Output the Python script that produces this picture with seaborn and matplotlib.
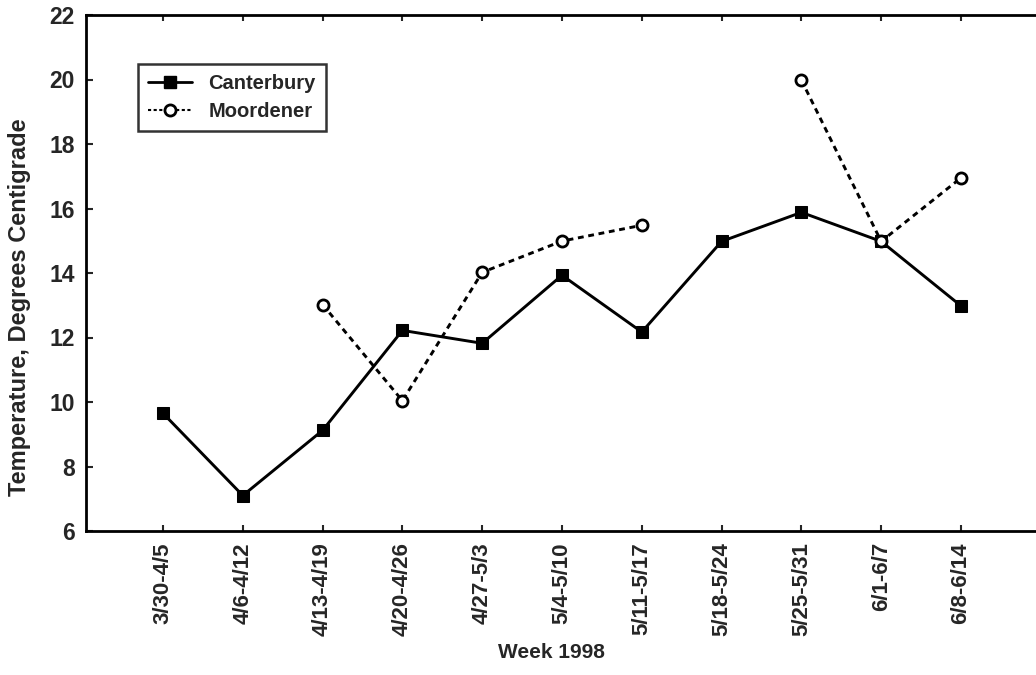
import numpy as np
import pandas as pd
import matplotlib
matplotlib.use("Agg")
import matplotlib.pyplot as plt
from matplotlib.lines import Line2D
import seaborn as sns

weeks = ["3/30-4/5", "4/6-4/12", "4/13-4/19", "4/20-4/26", "4/27-5/3", "5/4-5/10",
         "5/11-5/17", "5/18-5/24", "5/25-5/31", "6/1-6/7", "6/8-6/14"]
canterbury = [9.65, 7.1, 9.12, 12.22, 11.82, 13.93, 12.17, 14.98, 15.88, 14.98, 12.98]
moordener = [np.nan, np.nan, 13.02, 10.04, 14.02, 14.99, 15.48, np.nan, 19.98, 14.98, 16.95]
y_ticks = [6, 8, 10, 12, 14, 16, 18, 20, 22]

sns.set_style("ticks")
plt.rcParams["font.family"] = ["Liberation Sans", "DejaVu Sans"]
plt.rcParams["font.weight"] = "bold"

fig = plt.figure(figsize=(10.36, 6.75), dpi=100)
ax = fig.add_axes([86 / 1036, 1 - 531 / 675, (1036 - 86) / 1036, (531 - 15) / 675])

x = np.arange(len(weeks))
df_c = pd.DataFrame({"x": x, "y": canterbury})
sns.lineplot(data=df_c, x="x", y="y", ax=ax, color="black", lw=2.1, marker="s",
             markersize=9, markeredgecolor="black", markerfacecolor="black", zorder=3)

# Moordener: break the line at missing weeks
m = np.array(moordener, dtype=float)
seg = np.cumsum(np.isnan(m))
df_m = pd.DataFrame({"x": x, "y": m, "seg": seg}).dropna()
for s, d in df_m.groupby("seg"):
    sns.lineplot(data=d, x="x", y="y", ax=ax, color="black", lw=2.1, marker="o",
                 markersize=8, markeredgewidth=2.0, markeredgecolor="black",
                 markerfacecolor="white", linestyle=(0, (2.0, 1.6)), zorder=4)

ax.set_xlim(-0.965, 10.94)
ax.set_ylim(6, 22)
ax.set_yticks(y_ticks)
ax.set_yticklabels([str(v) for v in y_ticks], fontsize=16.5, fontweight="bold")
ax.set_xticks(x)
ax.set_xticklabels(weeks, rotation=90, fontsize=16, fontweight="bold")
ax.tick_params(axis="y", direction="in", length=5, width=1.5, pad=8, left=True)
ax.tick_params(axis="x", direction="in", length=4, width=1.5, pad=8, top=True, bottom=True)
ax.set_xlabel("")
ax.set_ylabel("")
for side in ["left", "bottom", "top"]:
    ax.spines[side].set_linewidth(2.0)
    ax.spines[side].set_color("black")
ax.spines["right"].set_visible(False)

fig.text(20 / 1036, 1 - 307 / 675, "Temperature, Degrees Centigrade", rotation=90,
         ha="center", va="center", fontsize=17, fontweight="bold")
fig.text(551 / 1036, 1 - 652 / 675, "Week 1998", ha="center", va="center",
         fontsize=15, fontweight="bold")

handles = [
    Line2D([], [], color="black", lw=2.0, marker="s", markersize=9,
           markerfacecolor="black", markeredgecolor="black"),
    Line2D([], [], color="black", lw=1.5, marker="o", markersize=8, markeredgewidth=2.0,
           markerfacecolor="white", markeredgecolor="black", linestyle=(0, (1.5, 1.2))),
]
leg = ax.legend(handles, ["Canterbury", "Moordener"], loc="upper left",
                bbox_to_anchor=((138 - 86) / 950, (531 - 64) / 516), frameon=True,
                fancybox=False, edgecolor="black", fontsize=14.5, handlelength=2.2,
                borderpad=0.5, labelspacing=0.45, handletextpad=0.8, borderaxespad=0)
leg.get_frame().set_linewidth(1.8)
for t in leg.get_texts():
    t.set_fontweight("bold")

fig.savefig("out.png", dpi=100)
